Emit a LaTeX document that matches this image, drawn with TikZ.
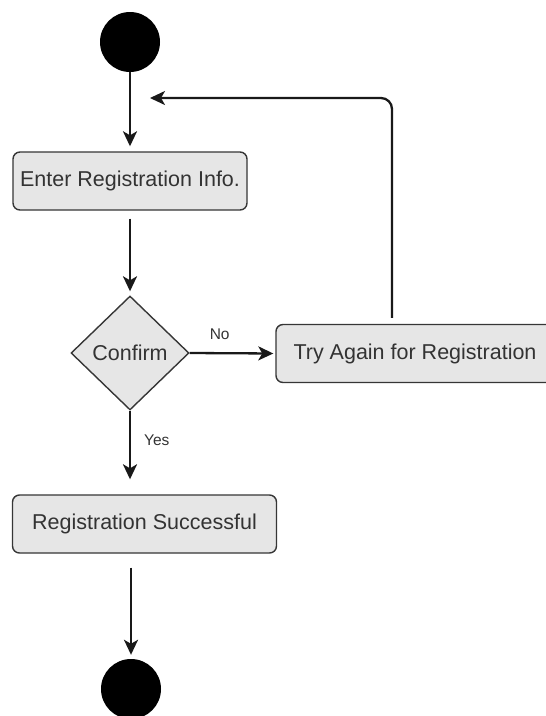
\documentclass[tikz,border=0pt]{standalone}
\usepackage{fontspec}
\setmainfont{Liberation Sans}
\usetikzlibrary{shapes.geometric,arrows.meta}

\definecolor{boxfill}{HTML}{E6E6E6}
\definecolor{boxline}{HTML}{363636}
\definecolor{txt}{HTML}{333333}

\tikzset{
  action/.style={draw=boxline, fill=boxfill, line width=1.4pt, rounded corners=7pt,
    text=txt, font=\fontsize{21.5}{24}\selectfont, inner sep=0pt},
  decision/.style={diamond, draw=boxline, fill=boxfill, line width=1.4pt,
    text=txt, font=\fontsize{21.5}{24}\selectfont, inner sep=0pt, aspect=1.03},
  terminal/.style={circle, fill=black, inner sep=0pt, minimum size=60pt},
  flow/.style={draw=black!90, line width=2.3pt, -{Stealth[length=15pt,width=14pt,inset=4pt]}},
  guard/.style={text=txt, font=\fontsize{15.5}{18}\selectfont, inner sep=0pt}
}

\begin{document}
\begin{tikzpicture}[x=1pt,y=-1pt]
  \useasboundingbox (0,0) rectangle (546,716);
  \clip (0,0) rectangle (546,716);

  % start / end markers
  \node[terminal] (start) at (130,42) {};
  \node[terminal] (stop) at (131,689) {};

  % activities
  \node[action, minimum width=234pt, minimum height=58pt] (enter) at (130,181) {Enter Registration Info.};
  \node[decision, minimum width=118pt, minimum height=114pt] (confirm) at (130,353) {Confirm};
  \node[action, minimum width=278pt, minimum height=58pt] (retry) at (415,353.5) {Try Again for Registration};
  \node[action, minimum width=264pt, minimum height=58pt] (done) at (144.5,524) {Registration Successful};

  % end of the loop-back arrow
  \coordinate (back) at (150,98);

  % connectors
  \draw[flow, shorten >=5pt] (start.south) -- (enter.north);
  \draw[flow, shorten <=8pt, shorten >=4pt] (enter.south) -- (confirm.north);
  \draw[flow, shorten >=2pt] (confirm.east) -- (retry.west)
    node[guard, pos=0.35, above=12pt] {No};
  \draw[flow, shorten >=15pt] (confirm.south) -- (confirm.south |- done.north)
    node[guard, pos=0.35, right=13pt] {Yes};
  \draw[flow, rounded corners=11pt, shorten <=6pt] (retry.north -| 392,0) -- (392,98) -- (back);
  \draw[flow, shorten <=14pt, shorten >=4pt] (done.south -| stop.north) -- (stop.north);
\end{tikzpicture}
\end{document}
